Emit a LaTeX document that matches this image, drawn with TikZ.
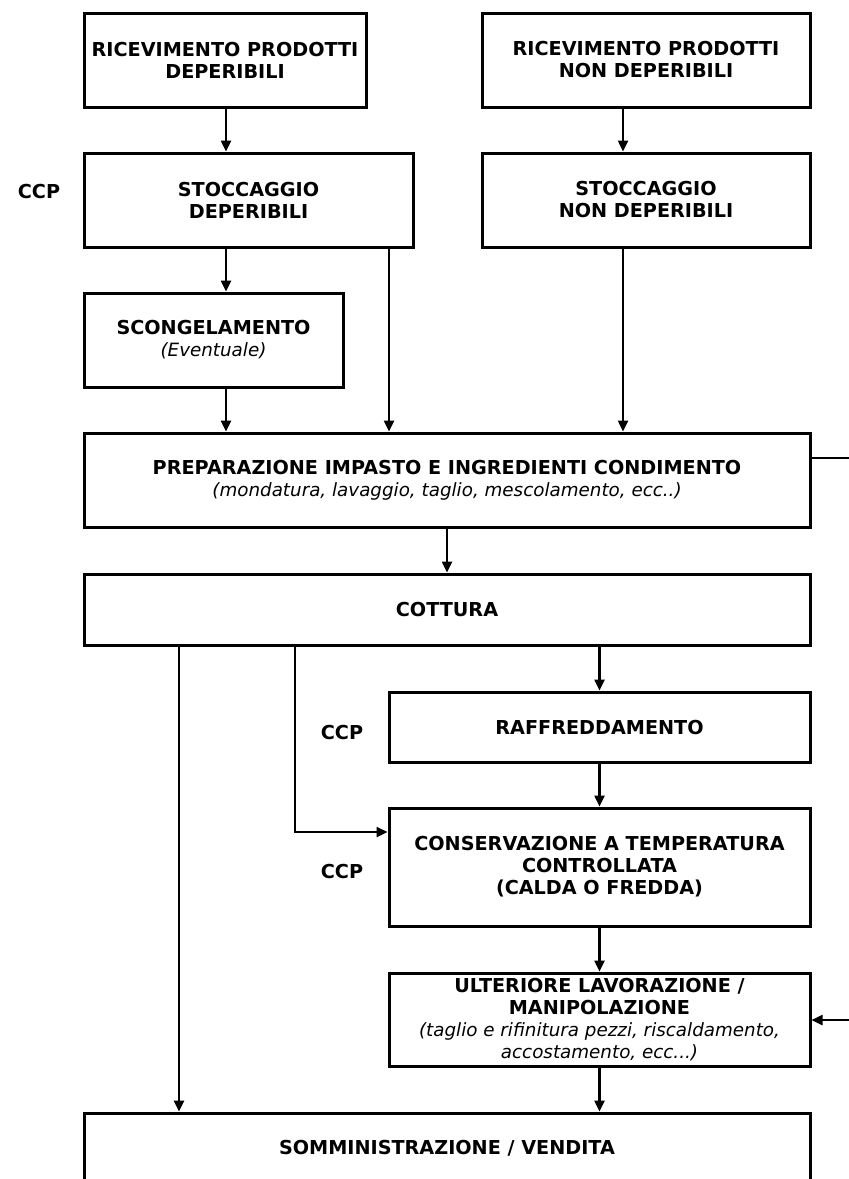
\documentclass[tikz,border=0pt]{standalone}
\usepackage{fontspec}
\setmainfont{DejaVu Sans}
\usetikzlibrary{arrows.meta,calc}
\newcommand{\hdline}[1]{{\fontsize{19.2}{22}\selectfont\bfseries #1}}
\newcommand{\itline}[1]{{\fontsize{18.3}{22}\selectfont\itshape #1}}
\tikzset{
  box/.style={draw, line width=3pt, inner sep=0pt, align=center, font=\fontsize{19}{22}\selectfont},
  conn/.style={line width=2.4pt},
  arr/.style={conn, -{Triangle[length=11pt,width=10pt]}},
  ccp/.style={font=\fontsize{19.2}{22}\selectfont\bfseries, inner sep=0pt}
}
\begin{document}
\begin{tikzpicture}[x=1pt,y=-1pt]
\useasboundingbox (0,0) rectangle (849,1179);
\fill[white] (0,0) rectangle (849,1179);
% boxes
\node[box, minimum width=282pt, minimum height=94pt] (b1) at (225,60) {\hdline{RICEVIMENTO PRODOTTI}\\\hdline{DEPERIBILI}};
\node[box, minimum width=328pt, minimum height=94pt] (b2) at (646,60) {\hdline{RICEVIMENTO PRODOTTI}\\\hdline{NON DEPERIBILI}};
\node[box, minimum width=329pt, minimum height=94pt] (b3) at (248.5,200) {\hdline{STOCCAGGIO}\\\hdline{DEPERIBILI}};
\node[box, minimum width=328pt, minimum height=94pt] (b4) at (646,200) {\hdline{STOCCAGGIO}\\\hdline{NON DEPERIBILI}};
\node[box, minimum width=259pt, minimum height=94pt] (b5) at (213.5,340) {\hdline{SCONGELAMENTO}\\\itline{(Eventuale)}};
\node[box, minimum width=726pt, minimum height=94pt] (b6) at (447,480) {\hdline{PREPARAZIONE IMPASTO E INGREDIENTI CONDIMENTO}\\\itline{(mondatura, lavaggio, taglio, mescolamento, ecc..)}};
\node[box, minimum width=726pt, minimum height=71pt] (b7) at (447,609.5) {\hdline{COTTURA}};
\node[box, minimum width=421pt, minimum height=70pt] (b8) at (599.5,727) {\hdline{RAFFREDDAMENTO}};
\node[box, minimum width=421pt, minimum height=118pt] (b9) at (599.5,867) {\hdline{CONSERVAZIONE A TEMPERATURA}\\\hdline{CONTROLLATA}\\\hdline{(CALDA O FREDDA)}};
\node[box, minimum width=421pt, minimum height=93pt] (b10) at (599.5,1019.5) {\hdline{ULTERIORE LAVORAZIONE /}\\\hdline{MANIPOLAZIONE}\\\itline{(taglio e rifinitura pezzi, riscaldamento,}\\\itline{accostamento, ecc...)}};
\node[box, minimum width=726pt, minimum height=70pt] (b11) at (447,1148) {\hdline{SOMMINISTRAZIONE / VENDITA}};
% CCP labels
\node[ccp] (ccp1) at (39,192) {CCP};
\node[ccp] (ccp2) at (342,732) {CCP};
\node[ccp] (ccp3) at (342,871) {CCP};
% helper coordinates
\coordinate (cx226) at (226,0);
\coordinate (cx623) at (623,0);
\coordinate (cx389) at (389,0);
\coordinate (cx179) at (179,0);
\coordinate (bend) at (295,832);
\coordinate (fbA) at (849,458);
\coordinate (fbB) at (849,1020);
% connectors
\draw[arr] (b1.south -| cx226) -- (b3.north -| cx226);
\draw[arr] (b2.south -| cx623) -- (b4.north -| cx623);
\draw[arr] (b3.south -| cx226) -- (b5.north -| cx226);
\draw[arr] (b5.south -| cx226) -- (b6.north -| cx226);
\draw[arr] (b3.south -| cx389) -- (b6.north -| cx389);
\draw[arr] (b4.south -| cx623) -- (b6.north -| cx623);
\draw[arr] (b6.south) -- (b7.north);
\draw[conn] (fbA -| b6.east) -- (fbA);
\draw[arr] (b7.south -| cx179) -- (b11.north -| cx179);
\draw[arr] (b7.south -| bend) -- (bend) -- (bend -| b9.west);
\draw[arr] (b7.south -| b8.north) -- (b8.north);
\draw[arr] (b8.south) -- (b9.north);
\draw[arr] (b9.south) -- (b10.north);
\draw[arr] (b10.south) -- (b10.south |- b11.north);
\draw[arr] (fbB) -- (fbB -| b10.east);
\end{tikzpicture}
\end{document}
